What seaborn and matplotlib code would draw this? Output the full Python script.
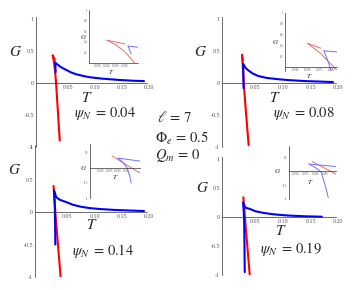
import matplotlib
matplotlib.use("Agg")
import matplotlib.pyplot as plt
import seaborn as sns
from matplotlib.ticker import FixedLocator, AutoMinorLocator

# ---- data (T, G) ----
psi_labels = ["0.04", "0.08", "0.14", "0.19"]

# psi_N = 0.04
red_a_T_04 = [0.031, 0.033, 0.035, 0.037, 0.0405, 0.044]
red_a_G_04 = [0.43, 0.34, 0.21, 0.02, -0.44, -0.90]
red_b_T_04 = [0.031, 0.035]
red_b_G_04 = [0.43, 0.36]
blue_a_T_04 = [0.0357, 0.0377, 0.041, 0.045, 0.05, 0.057, 0.065, 0.075, 0.09, 0.10, 0.12, 0.15, 0.18, 0.20]
blue_a_G_04 = [0.32, 0.30, 0.28, 0.255, 0.23, 0.20, 0.165, 0.135, 0.105, 0.09, 0.07, 0.05, 0.035, 0.03]
blue_b_T_04 = [0.0357, 0.0360, 0.0364]
blue_b_G_04 = [0.32, 0.25, 0.17]

# psi_N = 0.08
red_a_T_08 = [0.036, 0.0376, 0.0394, 0.042, 0.048]
red_a_G_08 = [0.44, 0.25, -0.03, -0.33, -0.97]
red_b_T_08 = [0.036, 0.0376]
red_b_G_08 = [0.44, 0.35]
blue_a_T_08 = [0.038, 0.0395, 0.042, 0.047, 0.055, 0.065, 0.08, 0.10, 0.12, 0.15, 0.20]
blue_a_G_08 = [0.30, 0.28, 0.24, 0.20, 0.15, 0.11, 0.08, 0.06, 0.045, 0.03, 0.015]
blue_b_T_08 = [0.038, 0.0384, 0.0388, 0.0389]
blue_b_G_08 = [0.30, 0.15, -0.03, -0.08]

# psi_N = 0.14
red_a_T_14 = [0.034, 0.0382, 0.047]
red_a_G_14 = [0.40, -0.10, -1.0]
blue_a_T_14 = [0.035, 0.0388, 0.045, 0.058, 0.07, 0.085, 0.10, 0.12, 0.15, 0.20]
blue_a_G_14 = [0.33, 0.23, 0.19, 0.15, 0.11, 0.08, 0.06, 0.045, 0.03, 0.015]
blue_b_T_14 = [0.035, 0.0358, 0.0365, 0.0370, 0.0373]
blue_b_G_14 = [0.33, 0.20, 0.03, -0.25, -0.50]

# psi_N = 0.19
red_a_T_19 = [0.0385, 0.0421, 0.050]
red_a_G_19 = [0.34, -0.10, -1.0]
blue_a_T_19 = [0.038, 0.0422, 0.05, 0.06, 0.075, 0.09, 0.10, 0.12, 0.15, 0.18]
blue_a_G_19 = [0.25, 0.16, 0.14, 0.10, 0.07, 0.05, 0.04, 0.025, 0.012, 0.005]
blue_b_T_19 = [0.038, 0.039, 0.0399, 0.0405, 0.041]
blue_b_G_19 = [0.25, 0.12, -0.04, -0.50, -0.95]

curves = [
    [(red_a_T_04, red_a_G_04, "r"), (red_b_T_04, red_b_G_04, "r"),
     (blue_a_T_04, blue_a_G_04, "b"), (blue_b_T_04, blue_b_G_04, "b")],
    [(red_a_T_08, red_a_G_08, "r"), (red_b_T_08, red_b_G_08, "r"),
     (blue_a_T_08, blue_a_G_08, "b"), (blue_b_T_08, blue_b_G_08, "b")],
    [(red_a_T_14, red_a_G_14, "r"),
     (blue_a_T_14, blue_a_G_14, "b"), (blue_b_T_14, blue_b_G_14, "b")],
    [(red_a_T_19, red_a_G_19, "r"),
     (blue_a_T_19, blue_a_G_19, "b"), (blue_b_T_19, blue_b_G_19, "b")],
]

main_xticks = [0.05, 0.10, 0.15, 0.20]
main_yticks = [-1, -0.5, 0, 0.5, 1]
inset_xticks = [[0.029, 0.031, 0.033, 0.035],
                [0.0345, 0.036, 0.0375, 0.039],
                [0.032, 0.0335, 0.035, 0.0365],
                [0.036, 0.0375, 0.039, 0.0405]]
inset_yticks = [[0.2, 0.4, 0.6, 0.8, 1], [0.2, 0.4, 0.6, 0.8, 1],
                [-1, -0.5, 0.5], [-1, -0.5, 0.5]]

# ---- style ----
sns.set_style("white")
plt.rcParams["font.family"] = ["Liberation Serif", "DejaVu Serif"]
plt.rcParams["mathtext.fontset"] = "stix"
plt.rcParams["axes.unicode_minus"] = False

W, H = 352, 290
fig = plt.figure(figsize=(W / 100, H / 100), dpi=100)

main_colors = {"r": "#ff0000", "b": "#0000ff"}
inset_colors = {"r": "#f26a6a", "b": "#6f6fff"}


def add_px_axes(x_left, x_right, y_top, y_bottom):
    ax = fig.add_axes([x_left / W, 1 - y_bottom / H, (x_right - x_left) / W, (y_bottom - y_top) / H])
    ax.patch.set_alpha(0)
    return ax


def style_axes(ax, xticks, yticks, fs, major_len, minor_len, xfmt, yfmt):
    for s in ["top", "right"]:
        ax.spines[s].set_visible(False)
    ax.spines["bottom"].set_position(("data", 0))
    ax.spines["left"].set_position(("data", ax.get_xlim()[0]))
    for s in ["bottom", "left"]:
        ax.spines[s].set_linewidth(0.5)
        ax.spines[s].set_color("#333333")
    ax.xaxis.set_major_locator(FixedLocator(xticks))
    ax.yaxis.set_major_locator(FixedLocator(yticks))
    ax.set_xticklabels([xfmt(v) for v in xticks])
    ax.set_yticklabels([yfmt(v) for v in yticks])
    ax.xaxis.set_minor_locator(AutoMinorLocator(5))
    ax.yaxis.set_minor_locator(AutoMinorLocator(5))
    ax.tick_params(which="major", length=major_len, width=0.4, color="#444444",
                   labelsize=fs, labelcolor="#555555", pad=0.5, direction="inout")
    ax.tick_params(which="minor", length=minor_len, width=0.3, color="#666666", direction="inout")
    ax.set_xlabel("")
    ax.set_ylabel("")


def yfmt_main(v):
    return {-1: "-1", -0.5: "-0.5", 0: "0", 0.5: "0.5", 1: "1"}[v]


def yfmt_inset(v):
    return "%g" % v


# main panels: pixel of T=0, px per unit T, pixel of G=0, px per unit G
main_geom = [(36, 540, 83, 64), (222, 555, 83, 64), (35, 545, 212, 65), (222, 555, 217, 58)]
# insets: x pixel range, T range, pixel of G=0, px per unit G, G range
inset_geom = [((89, 138), (0.027, 0.0379), 63, 53, (0.0, 1.0)),
              ((285, 337), (0.03325, 0.0396), 67, 54, (-0.08, 1.0)),
              ((90, 140), (0.0302, 0.0388), 168, 30, (-1.0, 0.8)),
              ((289, 336), (0.0349, 0.0422), 171, 28, (-1.0, 0.9))]

xlim_main = (0, 0.205)
ylim_main = (-1.0, 1.03)

for i in range(4):
    x0, xs, y0, ys = main_geom[i]
    ax = add_px_axes(x0 + xlim_main[0] * xs, x0 + xlim_main[1] * xs,
                     y0 - ylim_main[1] * ys, y0 - ylim_main[0] * ys)
    for T, G, c in curves[i]:
        sns.lineplot(x=T, y=G, ax=ax, color=main_colors[c], lw=1.5, sort=False,
                     estimator=None, legend=False)
    ax.set_xlim(*xlim_main)
    ax.set_ylim(*ylim_main)
    style_axes(ax, main_xticks, main_yticks, 4.3, 2.0, 1.0, lambda v: "%.2f" % v, yfmt_main)
    for lab in ax.get_xticklabels():
        lab.set_horizontalalignment("left")

    (xl, xr), tl, iy0, iys, gl = inset_geom[i]
    ax2 = add_px_axes(xl, xr, iy0 - gl[1] * iys, iy0 - gl[0] * iys)
    for T, G, c in curves[i]:
        sns.lineplot(x=T, y=G, ax=ax2, color=inset_colors[c], lw=0.7, sort=False,
                     estimator=None, legend=False)
    ax2.set_xlim(*tl)
    ax2.set_ylim(*gl)
    style_axes(ax2, inset_xticks[i], inset_yticks[i], 2.0, 1.0, 0.5,
               lambda v: "%.4f" % v, yfmt_inset)


# ---- text ----
def ptext(x, y, s, size, ha="center"):
    fig.text(x / W, 1 - y / H, s, fontsize=size, ha=ha, va="center")


G_pos = [(16, 52), (201, 52), (15, 170), (203, 188)]
T_pos = [(87, 98), (275, 98), (92, 225), (281, 231)]
psi_pos = [(105, 113), (304, 113), (103, 251), (291, 249)]
Gi_pos = [(84, 37), (276, 42), (84, 168), (278, 171)]
Ti_pos = [(111, 72), (309, 76), (115, 177), (310, 182)]

for i in range(4):
    ptext(*G_pos[i], r"$G$", 11)
    ptext(*T_pos[i], r"$T$", 11)
    ptext(*psi_pos[i], r"$\psi_N\;=\,%s$" % psi_labels[i], 10.5)
    ptext(*Gi_pos[i], r"$G$", 5)
    ptext(*Ti_pos[i], r"$T$", 5)

ptext(157, 118, r"$\ell\,=\,7$", 10.5, ha="left")
ptext(155, 138, r"$\Phi_e\,=\,0.5$", 10.5, ha="left")
ptext(155, 156, r"$Q_m\,=\,0$", 10.5, ha="left")

fig.savefig("out.png", dpi=100)
